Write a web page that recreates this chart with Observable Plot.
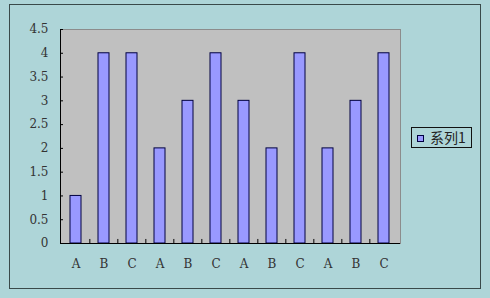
<!DOCTYPE html>
<html>
<head>
<meta charset="utf-8">
<script src="https://cdn.jsdelivr.net/npm/d3@7"></script>
<script src="https://cdn.jsdelivr.net/npm/@observablehq/plot@0.6"></script>
<style>
  html, body { margin: 0; padding: 0; background: #aed5d8; }
  #wrap { position: relative; width: 490px; height: 298px; overflow: hidden; }
  #border { position: absolute; left: 9px; top: 4px; width: 470px; height: 283px; border: 1px solid #3a4a4a; }
  #chart { position: absolute; left: 0; top: 0; }
  #legend { position: absolute; left: 411px; top: 127px; width: 59px; height: 19px; border: 1px solid #111;
            font-family: "Noto Sans CJK SC", sans-serif; font-size: 14px; line-height: 19px; color: #222; }
  #legend .sw { position: absolute; left: 5px; top: 7px; width: 5px; height: 5px; background: #9999ff; border: 1px solid #000040; }
  #legend .lb { position: absolute; left: 18px; top: 0; }
</style>
</head>
<body>
<div id="wrap">
  <div id="border"></div>
  <div id="chart"></div>
  <div id="legend"><div class="sw"></div><div class="lb" id="lbtext"></div></div>
</div>
<script>
const categories = ["A", "B", "C", "A", "B", "C", "A", "B", "C", "A", "B", "C"];
const values = [1, 4, 4, 2, 3, 4, 3, 2, 4, 2, 3, 4];
const seriesName = "系列1";
const yTicks = [0, 0.5, 1, 1.5, 2, 2.5, 3, 3.5, 4, 4.5];

const data = values.map((v, i) => ({i, cat: categories[i], v}));
const idx = data.map(d => d.i);
const separators = idx.slice(1);

const W = 490, H = 298, mL = 60, mR = 90, mT = 29, mB = 55;
const step = (W - mL - mR) / categories.length;

const chart = Plot.plot({
  width: W, height: H,
  marginLeft: mL, marginRight: mR, marginTop: mT, marginBottom: mB,
  style: {background: "transparent", fontFamily: "'DejaVu Serif', serif", fontSize: "12px", color: "#222"},
  x: {domain: idx, paddingInner: 0.6, paddingOuter: 0.3, label: null},
  y: {domain: [0, 4.5], label: null},
  marks: [
    Plot.frame({fill: "#c0c0c0", stroke: "#8c8c8c"}),
    Plot.barY(data, {x: "i", y: "v", fill: "#9999ff", stroke: "#000040", strokeWidth: 1}),
    Plot.ruleX(separators, {x: d => d, y1: 0, y2: 0.085, dx: -step / 2, stroke: "#000"}),
    Plot.axisY(yTicks, {tickSize: 0, tickPadding: 12, tickFormat: d => String(d), fill: "#333"}),
    Plot.axisY(yTicks, {tickSize: 3, dx: 3, tickFormat: () => "", stroke: "#000"}),
    Plot.axisX(idx, {tickSize: 0, tickPadding: 16, tickFormat: i => categories[i], fill: "#333"}),
    Plot.ruleY([0], {stroke: "#000"}),
    Plot.frame({anchor: "left", stroke: "#000"})
  ]
});
document.getElementById("chart").appendChild(chart);
document.getElementById("lbtext").textContent = seriesName;
</script>
</body>
</html>
